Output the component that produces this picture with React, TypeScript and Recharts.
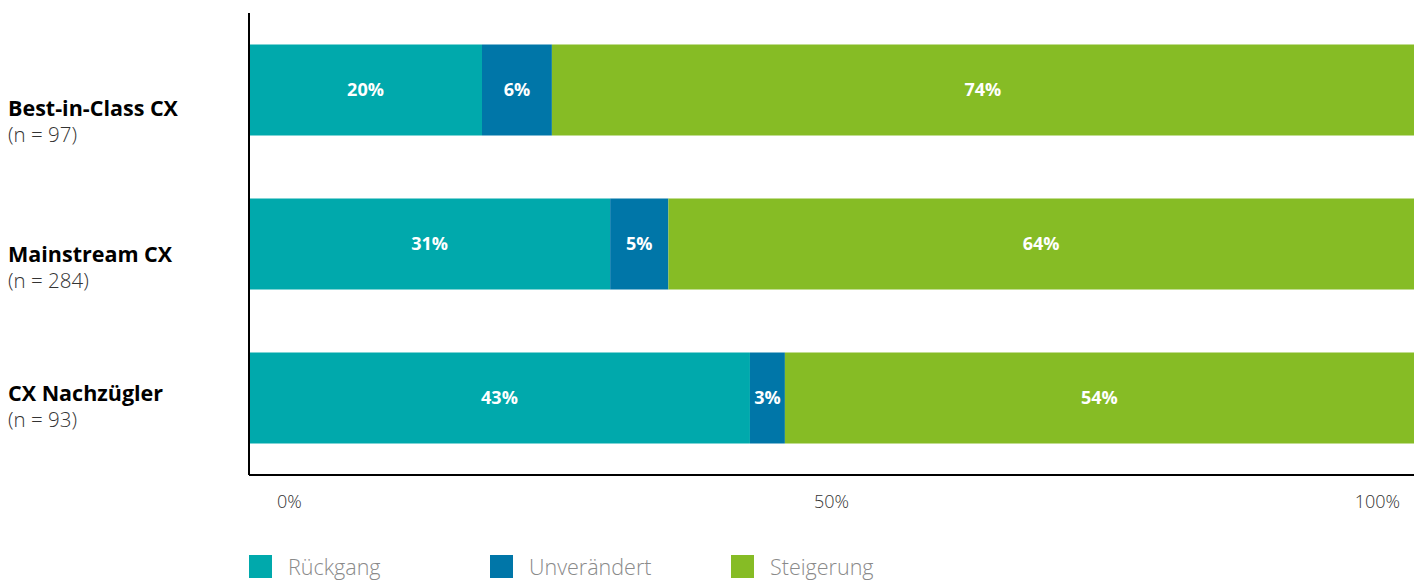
import React from 'react';
import { BarChart, Bar, XAxis, YAxis, LabelList } from 'recharts';

const categories = ['Best-in-Class CX', 'Mainstream CX', 'CX Nachzügler'];
const sampleSizes = ['(n = 97)', '(n = 284)', '(n = 93)'];
const rueckgang = [20, 31, 43];
const unveraendert = [6, 5, 3];
const steigerung = [74, 64, 54];
const xTicks = [0, 50, 100];

const series = [
  { key: 'rueckgang', label: 'Rückgang', color: '#00A9AC' },
  { key: 'unveraendert', label: 'Unverändert', color: '#0076A8' },
  { key: 'steigerung', label: 'Steigerung', color: '#86BC25' },
];

const data = categories.map((name, i) => ({
  name,
  n: sampleSizes[i],
  rueckgang: rueckgang[i],
  unveraendert: unveraendert[i],
  steigerung: steigerung[i],
}));

const FONT = '"Open Sans", "Noto Sans", sans-serif';

// label block sits a little lower than the bar centre, less so further down
const labelShift = [26, 18, 3];

const CategoryTick = (props: any) => {
  const { y, payload, index } = props;
  const row = data[index] ?? data.find((d) => d.name === payload.value);
  const base = y + (labelShift[index] ?? 10);
  return (
    <g>
      <text x={8} y={base} textAnchor="start" fontFamily={FONT} fontSize={21.5} fontWeight={700} fill="#000">
        {payload.value}
      </text>
      <text x={8} y={base + 26} textAnchor="start" fontFamily={FONT} fontSize={20.5} fontWeight={300} fill="#333">
        {row ? row.n : ''}
      </text>
    </g>
  );
};

const PercentTick = (props: any) => {
  const { x, y, payload } = props;
  let anchor: 'start' | 'middle' | 'end' = 'middle';
  let dx = 0;
  if (payload.value === 0) {
    anchor = 'start';
    dx = 28;
  } else if (payload.value === 100) {
    anchor = 'end';
    dx = -6;
  }
  return (
    <text x={x + dx} y={y + 25} textAnchor={anchor} fontFamily={FONT} fontSize={18} fontWeight={300} fill="#333">
      {`${payload.value}%`}
    </text>
  );
};

export default function App() {
  return (
    <div style={{ position: 'absolute', left: 0, top: 0, width: 1418, height: 581, background: '#fff' }}>
      <BarChart
        width={1418}
        height={581}
        data={data}
        layout="vertical"
        margin={{ top: 13, right: 4, bottom: 66, left: 0 }}
        barCategoryGap="20.5%"
      >
        <XAxis
          type="number"
          domain={[0, 100]}
          ticks={xTicks}
          height={40}
          axisLine={{ stroke: '#000', strokeWidth: 2 }}
          tickLine={false}
          tick={<PercentTick />}
        />
        <YAxis
          type="category"
          dataKey="name"
          width={249}
          axisLine={{ stroke: '#000', strokeWidth: 2 }}
          tickLine={false}
          tick={<CategoryTick />}
        />
        {series.map((s) => (
          <Bar key={s.key} dataKey={s.key} stackId="a" fill={s.color} isAnimationActive={false}>
            <LabelList
              dataKey={s.key}
              position="center"
              formatter={(v: any) => `${v}%`}
              fill="#fff"
              fontFamily={FONT}
              fontSize={18}
              fontWeight={700}
            />
          </Bar>
        ))}
      </BarChart>
      <div style={{ position: 'absolute', left: 249, top: 555, display: 'flex', fontFamily: FONT }}>
        {series.map((s) => (
          <div key={s.key} style={{ width: 241, display: 'flex', alignItems: 'center' }}>
            <span style={{ width: 23, height: 23, background: s.color, display: 'inline-block' }} />
            <span style={{ marginLeft: 16, fontSize: 21.5, fontWeight: 300, color: '#8a8a8a', lineHeight: '23px' }}>
              {s.label}
            </span>
          </div>
        ))}
      </div>
    </div>
  );
}
